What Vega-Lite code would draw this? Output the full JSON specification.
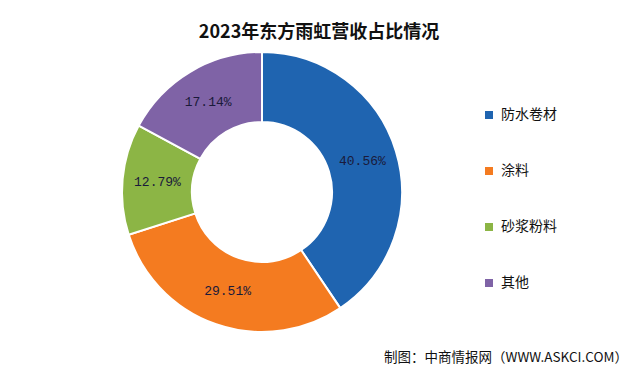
{
  "$schema": "https://vega.github.io/schema/vega-lite/v6.json",
  "autosize": {"type": "pad"},
  "padding": {"left": 0, "top": 24, "right": 0, "bottom": 0},
  "background": "white",
  "config": {"view": {"stroke": null}, "font": "Noto Sans CJK SC"},
  "title": {
    "text": "2023年东方雨虹营收占比情况",
    "fontSize": 18,
    "fontWeight": "bold",
    "color": "#111111",
    "anchor": "middle",
    "dx": 5,
    "offset": 6
  },
  "vconcat": [
    {
      "width": 524,
      "height": 280,
      "title": {
        "text": "制图：中商情报网（WWW.ASKCI.COM）",
        "orient": "bottom",
        "anchor": "end",
        "fontSize": 13.5,
        "fontWeight": "normal",
        "color": "#111111",
        "dx": 104,
        "offset": 15
      },
      "data": {
        "values": [
          {"category": "防水卷材", "share": 0.4056, "order": 1},
          {"category": "涂料", "share": 0.2951, "order": 2},
          {"category": "砂浆粉料", "share": 0.1279, "order": 3},
          {"category": "其他", "share": 0.1714, "order": 4}
        ]
      },
      "encoding": {
        "theta": {"field": "share", "type": "quantitative", "stack": true},
        "order": {"field": "order", "type": "quantitative"}
      },
      "layer": [
        {
          "mark": {"type": "arc", "outerRadius": 140, "innerRadius": 70, "stroke": "white", "strokeWidth": 2},
          "encoding": {
            "color": {
              "field": "category",
              "type": "nominal",
              "scale": {
                "domain": ["防水卷材", "涂料", "砂浆粉料", "其他"],
                "range": ["#1F64B0", "#F47B20", "#8CB545", "#7F63A6"]
              },
              "legend": {
                "orient": "none",
                "legendX": 482,
                "legendY": 56,
                "title": null,
                "symbolType": "square",
                "symbolSize": 64,
                "symbolStrokeWidth": 0,
                "labelFontSize": 14,
                "labelColor": "#111111",
                "labelOffset": 5,
                "rowPadding": 42,
                "labelFont": "Noto Sans CJK SC"
              }
            }
          }
        },
        {
          "mark": {"type": "text", "radius": 105, "font": "Liberation Mono", "fontSize": 13, "color": "#1A1A3A"},
          "encoding": {
            "text": {"field": "share", "type": "quantitative", "format": ".2%"}
          }
        }
      ]
    }
  ]
}
